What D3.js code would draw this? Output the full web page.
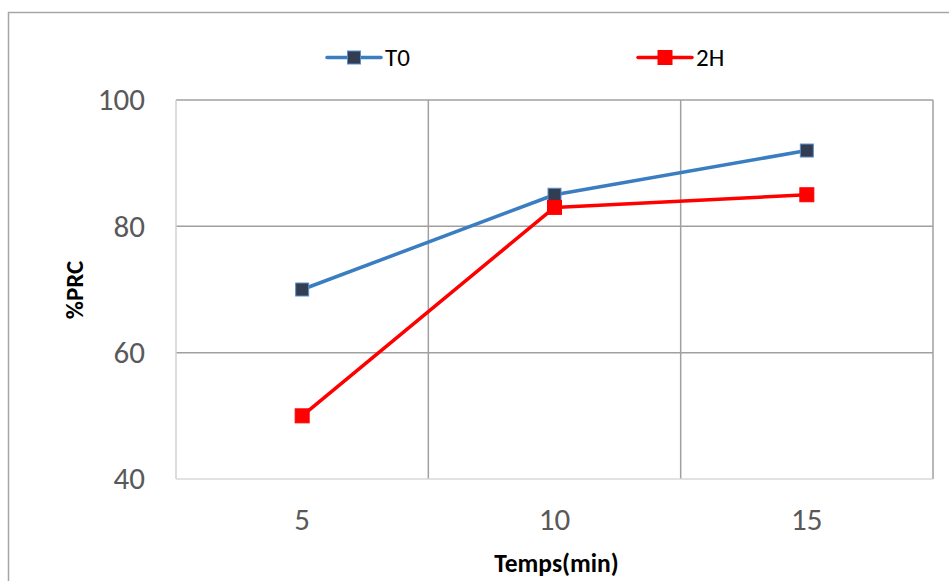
<!DOCTYPE html>
<html><head><meta charset="utf-8">
<script src="https://cdn.jsdelivr.net/npm/d3@7"></script>
<style>body{margin:0;background:#fff}svg{display:block}</style>
</head><body>
<svg id="c" width="949" height="581"></svg>
<script>
const categories = ["5", "10", "15"];
const seriesT0 = [70, 85, 92];
const series2H = [50, 83, 85];
const seriesNames = ["T0", "2H"];
const yTicks = [40, 60, 80, 100];

const svg = d3.select("#c");
const font = "Carlito, Calibri, 'Open Sans', 'Liberation Sans', sans-serif";
const L = 176, R = 933, T = 100, B = 479;

// outer frame
svg.append("path").attr("d", "M8.5,581 V12.5 H949").attr("fill", "none").attr("stroke", "#a6a6a6").attr("stroke-width", 1.5);

const x = d3.scaleBand().domain(categories).range([L, R]).padding(0);
const y = d3.scaleLinear().domain([40, 100]).range([B, T]);

// horizontal gridlines
svg.append("g").selectAll("line").data(yTicks.filter(d => d > 40)).join("line")
  .attr("x1", L).attr("x2", R).attr("y1", d => y(d)).attr("y2", d => y(d))
  .attr("stroke", "#a0a0a0").attr("stroke-width", 1.5);
// vertical gridlines at band boundaries
const bounds = categories.slice(1).map(c => x(c)).concat([R]);
svg.append("g").selectAll("line").data(bounds).join("line")
  .attr("x1", d => d).attr("x2", d => d).attr("y1", T).attr("y2", B)
  .attr("stroke", "#a0a0a0").attr("stroke-width", 1.5);
// axis lines
svg.append("line").attr("x1", L).attr("x2", L).attr("y1", T).attr("y2", B).attr("stroke", "#d0d0d0").attr("stroke-width", 1.5);
svg.append("line").attr("x1", L).attr("x2", R).attr("y1", B).attr("y2", B).attr("stroke", "#d9d9d9").attr("stroke-width", 1.5);

// y axis
const ya = svg.append("g").attr("transform", `translate(${L},0)`)
  .call(d3.axisLeft(y).tickValues(yTicks).tickSize(0).tickPadding(31));
ya.select(".domain").remove();
ya.selectAll("text").attr("font-family", font).attr("font-size", 31).attr("fill", "#595959");

// x axis
const xa = svg.append("g").attr("transform", `translate(0,${B})`)
  .call(d3.axisBottom(x).tickSize(0).tickPadding(29));
xa.select(".domain").remove();
xa.selectAll("text").attr("font-family", font).attr("font-size", 31).attr("fill", "#595959");

// axis titles
svg.append("text").attr("x", (L + R) / 2 + 2).attr("y", 572).attr("text-anchor", "middle")
  .attr("font-family", font).attr("font-weight", "bold").attr("font-size", 25.5).attr("fill", "#000").text("Temps(min)");
svg.append("text").attr("transform", "translate(83,290) rotate(-90)").attr("text-anchor", "middle")
  .attr("font-family", font).attr("font-weight", "bold").attr("font-size", 25).attr("fill", "#000").text("%PRC");

const styles = [
  {line: "#3a7dc0", fill: "#323d51", stroke: "#5b8fcc", size: 13},
  {line: "#ff0000", fill: "#ff0000", stroke: "#ff0000", size: 14}
];
const data = [seriesT0, series2H];
const cx = c => x(c) + x.bandwidth() / 2;
const line = d3.line().x((d, i) => cx(categories[i])).y(d => y(d));

data.forEach((vals, k) => {
  const s = styles[k];
  svg.append("path").datum(vals).attr("d", line).attr("fill", "none")
    .attr("stroke", s.line).attr("stroke-width", 3.5).attr("stroke-linejoin", "round");
});
data.forEach((vals, k) => {
  const s = styles[k];
  svg.append("g").selectAll("rect").data(vals).join("rect")
    .attr("x", (d, i) => cx(categories[i]) - s.size / 2)
    .attr("y", d => y(d) - s.size / 2)
    .attr("width", s.size).attr("height", s.size)
    .attr("fill", s.fill).attr("stroke", s.stroke).attr("stroke-width", 1);
});

// legend
const legX = [327, 638];
seriesNames.forEach((n, k) => {
  const s = styles[k];
  const g = svg.append("g").attr("transform", `translate(${legX[k]},57.5)`);
  g.append("line").attr("x1", 0).attr("x2", 54).attr("y1", 0).attr("y2", 0).attr("stroke", s.line).attr("stroke-width", 3.5).attr("stroke-linecap", "round");
  g.append("rect").attr("x", 27 - s.size / 2).attr("y", -s.size / 2).attr("width", s.size).attr("height", s.size)
    .attr("fill", s.fill).attr("stroke", s.stroke).attr("stroke-width", 1);
  g.append("text").attr("x", 58).attr("y", 8.5).attr("font-family", font).attr("font-size", 25).attr("fill", "#000").text(n);
});
</script>
</body></html>
